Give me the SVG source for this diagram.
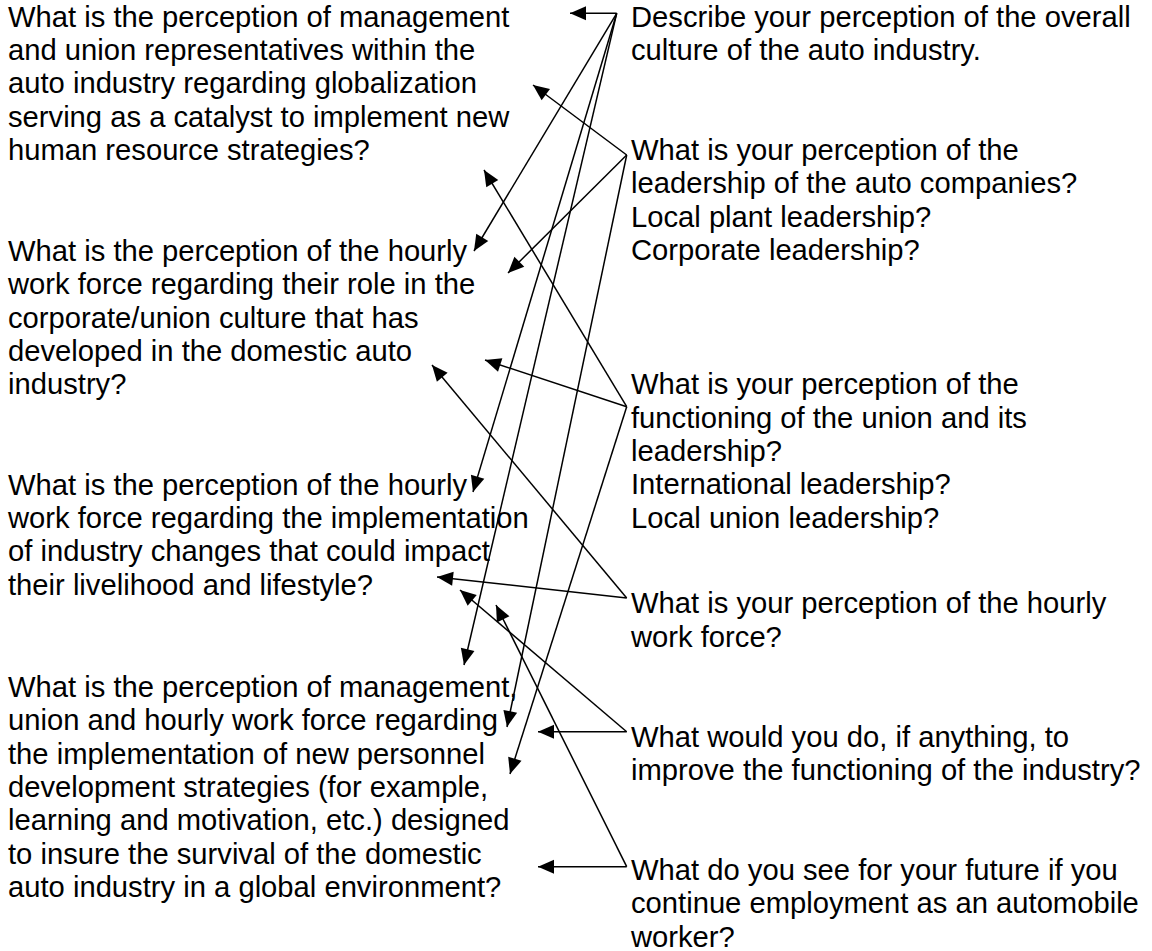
<svg xmlns="http://www.w3.org/2000/svg" width="1152" height="951" viewBox="0 0 1152 951">
  <style>
    .t { font-family: "Liberation Sans", Arial, sans-serif; font-size: 29.2px; fill: #000; }
    .c { stroke: #000; stroke-width: 1.5; fill: none; marker-end: url(#head); }
  </style>
  <defs>
    <marker id="head" markerUnits="userSpaceOnUse" markerWidth="17" markerHeight="15" refX="16" refY="7" orient="auto" overflow="visible">
      <path d="M0,0 L16,7 L0,14 Z" fill="#000"/>
    </marker>
  </defs>
  <rect width="1152" height="951" fill="#fff"/>

  <!-- research questions (left column) -->
  <g id="q1" class="t">
    <text x="8" y="26.7">What is the perception of management</text>
    <text x="8" y="60">and union representatives within the</text>
    <text x="8" y="93.3">auto industry regarding globalization</text>
    <text x="8" y="126.7">serving as a catalyst to implement new</text>
    <text x="8" y="160">human resource strategies?</text>
  </g>
  <g id="q2" class="t">
    <text x="8" y="261">What is the perception of the hourly</text>
    <text x="8" y="294.3">work force regarding their role in the</text>
    <text x="8" y="327.7">corporate/union culture that has</text>
    <text x="8" y="361">developed in the domestic auto</text>
    <text x="8" y="394.3">industry?</text>
  </g>
  <g id="q3" class="t">
    <text x="8" y="494.5">What is the perception of the hourly</text>
    <text x="8" y="528">work force regarding the implementation</text>
    <text x="8" y="561.4">of industry changes that could impact</text>
    <text x="8" y="594.8">their livelihood and lifestyle?</text>
  </g>
  <g id="q4" class="t">
    <text x="8" y="697">What is the perception of management,</text>
    <text x="8" y="730.3">union and hourly work force regarding</text>
    <text x="8" y="763.7">the implementation of new personnel</text>
    <text x="8" y="797">development strategies (for example,</text>
    <text x="8" y="830.3">learning and motivation, etc.) designed</text>
    <text x="8" y="863.7">to insure the survival of the domestic</text>
    <text x="8" y="897">auto industry in a global environment?</text>
  </g>

  <!-- interview questions (right column) -->
  <g id="r1" class="t">
    <text x="631" y="26.7">Describe your perception of the overall</text>
    <text x="631" y="60">culture of the auto industry.</text>
  </g>
  <g id="r2" class="t">
    <text x="631" y="160">What is your perception of the</text>
    <text x="631" y="193.3">leadership of the auto companies?</text>
    <text x="631" y="226.7">Local plant leadership?</text>
    <text x="631" y="260">Corporate leadership?</text>
  </g>
  <g id="r3" class="t">
    <text x="631" y="394.3">What is your perception of the</text>
    <text x="631" y="427.7">functioning of the union and its</text>
    <text x="631" y="461">leadership?</text>
    <text x="631" y="494.3">International leadership?</text>
    <text x="631" y="527.7">Local union leadership?</text>
  </g>
  <g id="r4" class="t">
    <text x="631" y="613.3">What is your perception of the hourly</text>
    <text x="631" y="646.7">work force?</text>
  </g>
  <g id="r5" class="t">
    <text x="631" y="746.7">What would you do, if anything, to</text>
    <text x="631" y="780">improve the functioning of the industry?</text>
  </g>
  <g id="r6" class="t">
    <text x="631" y="880">What do you see for your future if you</text>
    <text x="631" y="913.3">continue employment as an automobile</text>
    <text x="631" y="946.7">worker?</text>
  </g>

  <!-- links from interview questions to research questions -->
  <g id="connectors" class="c">
    <line x1="616.7" y1="13.3" x2="570" y2="13.3"/>
    <line x1="616.7" y1="13.3" x2="474" y2="251"/>
    <line x1="616.7" y1="13.3" x2="473" y2="492"/>
    <line x1="616.7" y1="13.3" x2="464" y2="665"/>

    <line x1="626.7" y1="155" x2="533" y2="85"/>
    <line x1="626.7" y1="155" x2="508" y2="273"/>
    <line x1="626.7" y1="155" x2="507" y2="727"/>

    <line x1="626.7" y1="406.7" x2="484" y2="170"/>
    <line x1="626.7" y1="406.7" x2="485" y2="360"/>
    <line x1="626.7" y1="406.7" x2="510" y2="774"/>

    <line x1="626.7" y1="598" x2="432" y2="365"/>
    <line x1="626.7" y1="598" x2="437" y2="577"/>

    <line x1="626.7" y1="731.7" x2="538" y2="731.7"/>
    <line x1="626.7" y1="731.7" x2="460" y2="590"/>

    <line x1="626.7" y1="866.7" x2="538" y2="866.7"/>
    <line x1="626.7" y1="866.7" x2="496" y2="605"/>
  </g>
</svg>
